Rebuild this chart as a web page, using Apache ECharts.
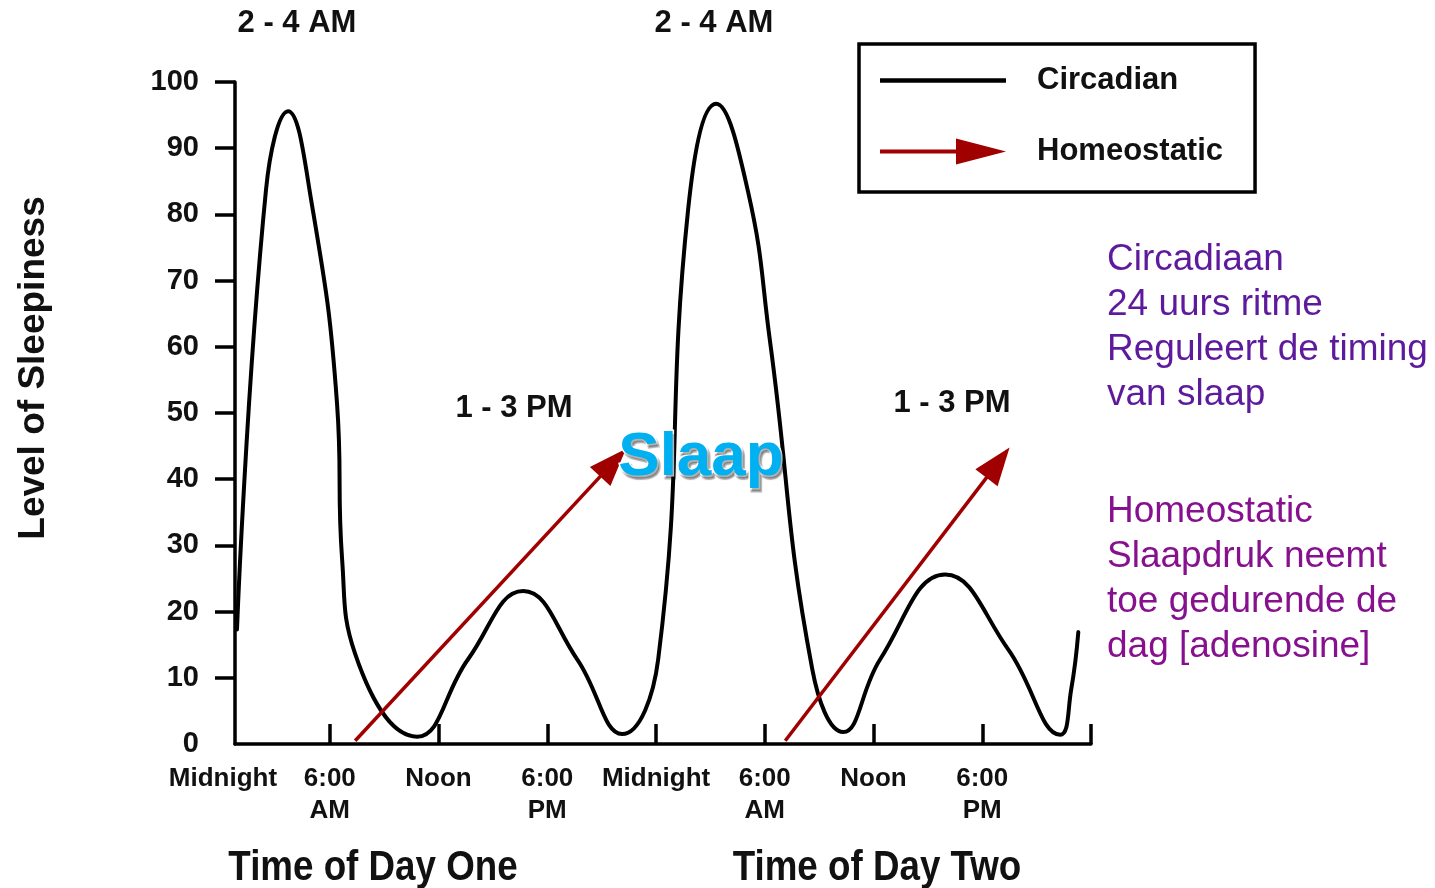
<!DOCTYPE html>
<html>
<head>
<meta charset="utf-8">
<script src="https://cdn.jsdelivr.net/npm/echarts@6/dist/echarts.min.js"></script>
<style>
  html, body { margin: 0; padding: 0; background: #fff; }
  #chart { width: 1435px; height: 888px; }
</style>
</head>
<body>
<div id="chart"></div>
<script>
// Hours counted from the first midnight; the axis starts just after it.
const X_START = 0.77;
const X_END = 48;

// Circadian sleepiness curve over two days (hour, level 0-100):
// turning points plus the steepest points of each slope
const circadianHours = [
  0.88, 2.48, 3.70, 4.97, 6.40, 6.68, 7.40, 10.82, 13.63, 16.67, 19.65, 22.13,
  24.12, 25.77, 27.32, 29.08, 30.30, 32.62, 34.33, 36.37, 39.96, 43.43, 46.30, 46.91, 47.30
];
const circadianLevel = [
  17.3, 83.7, 95.6, 82.2, 51.4, 27.9, 13.6, 1.1, 12.8, 23.1, 12.8, 1.5,
  12.8, 80.7, 96.7, 83.4, 60.6, 11.3, 1.8, 12.8, 25.6, 14.3, 1.4, 8.3, 16.9
];

// Homeostatic sleep pressure rising through each waking day (start -> arrow head)
const homeoStartHours = [7.40, 31.13];
const homeoStartLevel = [0.5, 0.5];
const homeoEndHours = [21.63, 42.87];
const homeoEndLevel = [42.5, 42.5];

// Axis ticks and labels
const xTickHours = [0, 6, 12, 18, 24, 30, 36, 42];
const xTickLabels = ['Midnight', '6:00\nAM', 'Noon', '6:00\nPM', 'Midnight', '6:00\nAM', 'Noon', '6:00\nPM'];
const xMarkHours = [6, 12, 18, 24, 30, 36, 42, 48];
const yTickValues = [0, 10, 20, 30, 40, 50, 60, 70, 80, 90, 100];

// Annotations
const peakTexts = ['2 - 4 AM', '1 - 3 PM', '2 - 4 AM', '1 - 3 PM'];
const dayTitles = ['Time of Day One', 'Time of Day Two'];
const circadianNote = ['Circadiaan', '24 uurs ritme', 'Reguleert de timing', 'van slaap'];
const homeostaticNote = ['Homeostatic', 'Slaapdruk neemt', 'toe gedurende de', 'dag [adenosine]'];

const FONT = "'Liberation Sans', Arial, Helvetica, sans-serif";
const RED = '#a00000';

const circadianData = circadianHours.map((h, i) => [h, circadianLevel[i]]);
const arrowData = homeoStartHours.map((h, i) => [
  { coord: [h, homeoStartLevel[i]] },
  { coord: [homeoEndHours[i], homeoEndLevel[i]] }
]);
const labelHours = xTickHours.map(h => Math.max(h, X_START));

const chart = echarts.init(document.getElementById('chart'), null, { renderer: 'canvas' });

function peakText(text, x, y) {
  return {
    type: 'text', x: x, y: y, z: 10,
    style: { text: text, font: 'bold 31px ' + FONT, fill: '#111', align: 'center', verticalAlign: 'middle' }
  };
}
function dayTitle(text, x) {
  // condensed bold title
  return {
    type: 'text', x: x, y: 868, z: 10, scaleX: 0.875,
    style: { text: text, font: 'bold 42px ' + FONT, fill: '#111', align: 'center', verticalAlign: 'middle' }
  };
}
function note(lines, y, color) {
  return {
    type: 'text', x: 1107, y: y, z: 10,
    style: { text: lines.join('\n'), font: '37px ' + FONT, fill: color, lineHeight: 45, align: 'left', verticalAlign: 'top' }
  };
}

chart.setOption({
  animation: false,
  backgroundColor: '#fff',
  grid: { left: 235, right: 344, top: 82, bottom: 144, containLabel: false },
  legend: {
    orient: 'vertical',
    left: 859,
    top: 44,
    padding: [21, 32, 25, 21],
    itemGap: 40,
    itemWidth: 126,
    itemHeight: 26,
    borderColor: '#000',
    borderWidth: 3.5,
    backgroundColor: '#fff',
    selectedMode: false,
    itemStyle: { borderWidth: 0 },
    textStyle: { fontSize: 31, fontWeight: 'bold', color: '#111', fontFamily: FONT, padding: [0, 0, 0, 26] },
    data: [
      { name: 'Circadian', icon: 'path://M0,0H118V4H0Z' },
      { name: 'Homeostatic', icon: 'path://M0,11H76V0L126,13L76,26V15H0Z' }
    ]
  },
  xAxis: {
    type: 'value',
    min: X_START,
    max: X_END,
    axisLine: { show: true, lineStyle: { color: '#000', width: 3.5 } },
    axisTick: {
      show: true, inside: true, length: 20,
      lineStyle: { color: '#000', width: 3.5 },
      customValues: xMarkHours
    },
    axisLabel: {
      customValues: labelHours,
      showMinLabel: true,
      showMaxLabel: true,
      margin: 19,
      fontSize: 26,
      fontWeight: 'bold',
      fontFamily: FONT,
      color: '#111',
      lineHeight: 32,
      formatter: function (v) {
        const i = labelHours.findIndex(h => Math.abs(h - v) < 1e-6);
        if (i < 0) return '';
        return i === 0 ? '{first|' + xTickLabels[i] + '}' : xTickLabels[i];
      },
      rich: {
        first: { fontSize: 26, fontWeight: 'bold', fontFamily: FONT, color: '#111', lineHeight: 32, padding: [0, 24, 0, 0] }
      }
    },
    splitLine: { show: false }
  },
  yAxis: {
    type: 'value',
    min: 0,
    max: 100,
    interval: 10,
    name: 'Level of Sleepiness',
    nameLocation: 'middle',
    nameGap: 183,
    nameRotate: 90,
    nameTextStyle: { fontSize: 37, fontWeight: 'bold', color: '#111', fontFamily: FONT, padding: [0, 0, 0, 90] },
    axisLine: { show: true, lineStyle: { color: '#000', width: 3.5 } },
    axisTick: {
      show: true, inside: false, length: 20,
      lineStyle: { color: '#000', width: 3.5 },
      customValues: yTickValues.filter(v => v > 0)
    },
    axisLabel: {
      customValues: yTickValues,
      margin: 36,
      fontSize: 29,
      fontWeight: 'bold',
      fontFamily: FONT,
      color: '#111'
    },
    splitLine: { show: false }
  },
  series: [
    {
      name: 'Circadian',
      type: 'line',
      data: circadianData,
      smooth: 0.45,
      smoothMonotone: 'none',
      showSymbol: false,
      symbol: 'none',
      color: '#000',
      lineStyle: { color: '#000', width: 4, cap: 'round', join: 'round' },
      itemStyle: { color: '#000' },
      silent: true,
      z: 3
    },
    {
      name: 'Homeostatic',
      type: 'line',
      data: [],
      color: RED,
      itemStyle: { color: RED },
      lineStyle: { color: RED, width: 3.5 },
      z: 4,
      markLine: {
        silent: true,
        symbol: ['none', 'triangle'],
        symbolSize: [28, 38],
        label: { show: false },
        emphasis: { disabled: true },
        lineStyle: { color: RED, width: 3.5, type: 'solid' },
        itemStyle: { color: RED },
        data: arrowData
      }
    }
  ],
  graphic: [
    peakText(peakTexts[0], 297, 23),
    peakText(peakTexts[1], 514, 408),
    peakText(peakTexts[2], 714, 23),
    peakText(peakTexts[3], 952, 403),
    dayTitle(dayTitles[0], 373),
    dayTitle(dayTitles[1], 877),
    note(circadianNote, 237, '#5e1a9c'),
    note(homeostaticNote, 489, '#86108e'),
    {
      type: 'text', x: 701, y: 458, z: 20,
      style: {
        text: 'Slaap', font: 'bold 62px ' + FONT, fill: '#00b0f0',
        stroke: '#fff', lineWidth: 3, strokeFirst: true,
        textShadowColor: 'rgba(0,0,0,0.3)', textShadowBlur: 1, textShadowOffsetX: 2, textShadowOffsetY: 3,
        align: 'center', verticalAlign: 'middle'
      }
    }
  ]
});
</script>
</body>
</html>
